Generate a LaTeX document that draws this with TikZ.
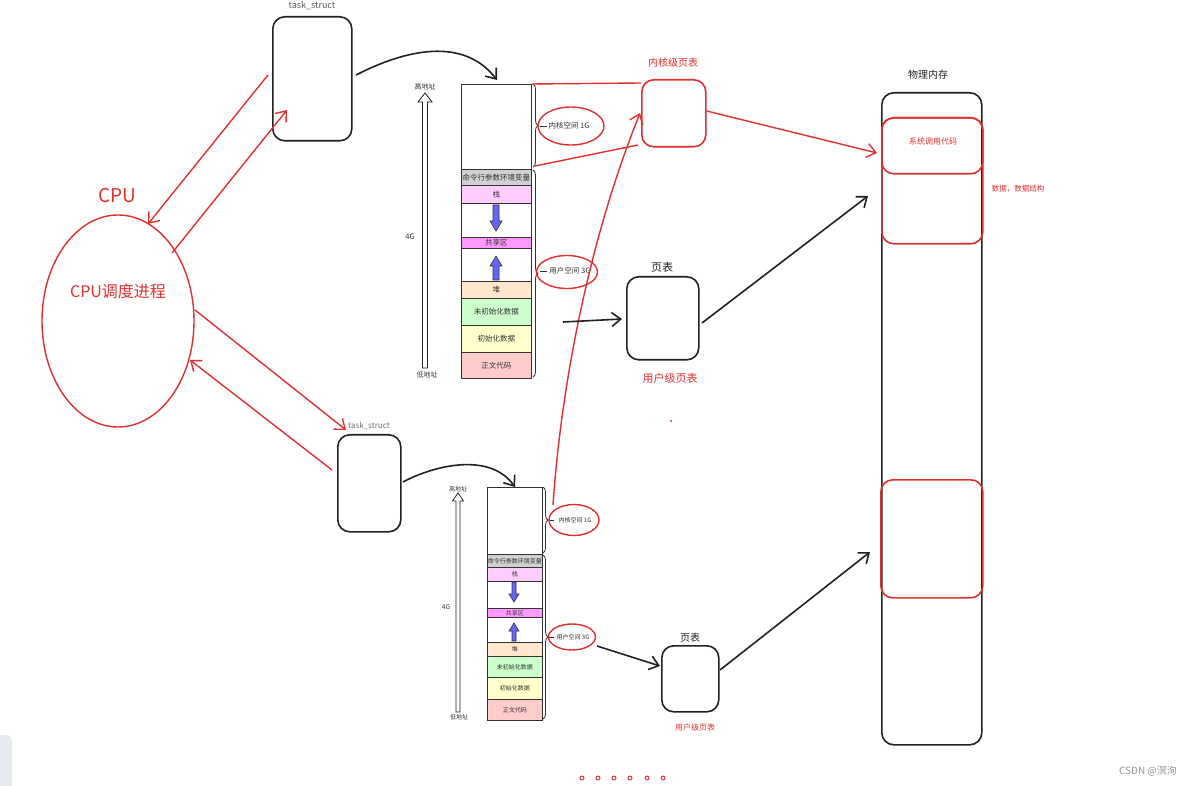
\documentclass[tikz,border=0pt]{standalone}
\usepackage{fontspec}
\setmainfont{Noto Sans CJK SC}
\usetikzlibrary{arrows.meta,decorations.pathreplacing,shapes.geometric}
\definecolor{rd}{HTML}{E0312E}
\definecolor{ink}{HTML}{222222}
\definecolor{txt}{HTML}{333333}
\definecolor{cmdgray}{HTML}{D0D0D0}
\definecolor{stackpink}{HTML}{FFCCFF}
\definecolor{sharepink}{HTML}{FF99FF}
\definecolor{heapc}{HTML}{FFE6CC}
\definecolor{bssc}{HTML}{CCFFCC}
\definecolor{datac}{HTML}{FFFFCC}
\definecolor{textc}{HTML}{FFCCCC}
\definecolor{blu}{HTML}{6666FF}
\newcommand\fs[1]{\fontsize{#1}{#1}\selectfont}
\begin{document}
\begin{tikzpicture}[x=1pt,y=-1pt,
  blkbox/.style={draw=ink,line width=1.6pt,rounded corners=12pt,anchor=north west,inner sep=0pt},
  redbox/.style={draw=rd,line width=1.6pt,rounded corners=12pt,anchor=north west,inner sep=0pt},
  rowA/.style={draw=txt,line width=0.7pt,anchor=north west,inner sep=0pt,minimum width=70pt,text=txt,font=\fs{7.5}},
  rowB/.style={draw=txt,line width=0.7pt,anchor=north west,inner sep=0pt,minimum width=55pt,text=txt,font=\fs{6}},
  rarr/.style={draw=rd,line width=1.4pt,-{Straight Barb[length=9pt,width=14pt,line width=1.4pt]}},
  barr/.style={draw=ink,line width=1.6pt,-{Straight Barb[length=9pt,width=14pt,line width=1.6pt]}},
  rline/.style={draw=rd,line width=1.4pt},
  brc/.style={draw=txt,line width=0.8pt,decorate,decoration={brace,amplitude=5pt}},
  rell/.style={draw=rd,line width=1.4pt,ellipse,inner sep=0pt,text=txt},
  hollow/.style={draw=ink,line width=0.8pt,fill=white},
  bluearr/.style={draw=txt,line width=0.6pt,fill=blu},
  lbl/.style={inner sep=0pt,text=txt}
]
\useasboundingbox (0,0) rectangle (1195,786);

% left UI artifact
\fill[fill={rgb,255:red,232;green,234;blue,242},rounded corners=6pt] (-10,735) rectangle (12,796);

% CPU
\node[lbl,text=rd,font=\fs{19}] (cpul) at (117,196) {CPU};
\node[draw=rd,line width=1.4pt,ellipse,minimum width=152pt,minimum height=212pt,inner sep=0pt] (cpu) at (118,321) {};
\node[lbl,text=rd,font=\fs{16}] (cput) at (118,291) {CPU调度进程};

% task_structs
\node[blkbox,minimum width=79pt,minimum height=124pt] (ts1) at (272,16) {};
\node[lbl,text=txt!80,font=\fs{9}] (ts1l) at (312,6) {task\_struct};
\node[blkbox,minimum width=63pt,minimum height=97pt] (ts2) at (337,434) {};
\node[lbl,text=txt!70,font=\fs{8}] (ts2l) at (369,426) {task\_struct};

% red arrows CPU <-> task
\coordinate (a1s) at (268,75);
\coordinate (a1e) at (148,224);
\coordinate (a2s) at (172,253);
\coordinate (a2e) at (287,110);
\coordinate (a3s) at (195,310);
\coordinate (a3e) at (346,430);
\coordinate (a4s) at (332,470);
\coordinate (a4e) at (190,360);
\draw[rarr] (a1s) -- (a1e);
\draw[rarr] (a2s) -- (a2e);
\draw[rarr] (a3s) -- (a3e);
\draw[rarr] (a4s) -- (a4e);

% curved black arrows to memory layouts
\coordinate (c1s) at (356,75);
\coordinate (c1e) at (497,80);
\draw[barr] (c1s) .. controls (395,55) and (460,32) .. (c1e);
\coordinate (c2s) at (403,482);
\coordinate (c2e) at (515,487);
\draw[barr] (c2s) .. controls (435,465) and (490,452) .. (c2e);

% ===== top memory layout =====
\node[rowA,minimum height=85pt] (k1) at (461,84) {};
\node[rowA,minimum height=16pt,fill=cmdgray] (cmd1) at (461,169) {命令行参数环境变量};
\node[rowA,minimum height=18pt,fill=stackpink] (st1) at (461,185) {栈};
\node[rowA,minimum height=34pt] (b11) at (461,203) {};
\node[rowA,minimum height=11pt,fill=sharepink] (sh1) at (461,237) {共享区};
\node[rowA,minimum height=33pt] (b12) at (461,248) {};
\node[rowA,minimum height=17pt,fill=heapc] (hp1) at (461,281) {堆};
\node[rowA,minimum height=27pt,fill=bssc] (bss1) at (461,298) {未初始化数据};
\node[rowA,minimum height=27pt,fill=datac] (dat1) at (461,325) {初始化数据};
\node[rowA,minimum height=26pt,fill=textc] (tx1) at (461,352) {正文代码};
% blue arrows
\draw[bluearr] (493,205) -- (499,205) -- (499,221) -- (502,221) -- (496,231) -- (490,221) -- (493,221) -- cycle;
\draw[bluearr] (493,280) -- (499,280) -- (499,266) -- (502,266) -- (496,256) -- (490,266) -- (493,266) -- cycle;
% address arrow
\draw[hollow] (422.5,368) -- (422.5,102) -- (418,102) -- (425,93) -- (432,102) -- (427.5,102) -- (427.5,368) -- cycle;
\node[lbl,font=\fs{7}] (hi1) at (425,87) {高地址};
\node[lbl,font=\fs{7}] (lo1) at (427,375) {低地址};
\node[lbl,font=\fs{7.5}] (g41) at (410,237) {4G};
% braces
\draw[brc] (533,84) -- (533,167);
\draw[brc] (533,170) -- (533,377);
\draw[draw=txt,line width=0.8pt] (540,126) -- (547,126);
\draw[draw=txt,line width=0.8pt] (540,271) -- (547,271);
\node[rell,minimum width=66pt,minimum height=38pt] (ke1) at (571,126) {};
\node[lbl,font=\fs{7.5}] at (569,126) {内核空间 1G};
\node[rell,minimum width=61pt,minimum height=33pt] (ue1) at (567,272) {};
\node[lbl,font=\fs{7.5}] at (570,271) {用户空间 3G};

% ===== bottom memory layout =====
\node[rowB,minimum height=67pt] (k2) at (487,487) {};
\node[rowB,minimum height=13pt,fill=cmdgray] (cmd2) at (487,554) {命令行参数环境变量};
\node[rowB,minimum height=14pt,fill=stackpink] (st2) at (487,567) {栈};
\node[rowB,minimum height=27pt] (b21) at (487,581) {};
\node[rowB,minimum height=9pt,fill=sharepink] (sh2) at (487,608) {共享区};
\node[rowB,minimum height=25pt] (b22) at (487,617) {};
\node[rowB,minimum height=14pt,fill=heapc] (hp2) at (487,642) {堆};
\node[rowB,minimum height=21pt,fill=bssc] (bss2) at (487,656) {未初始化数据};
\node[rowB,minimum height=22pt,fill=datac] (dat2) at (487,677) {初始化数据};
\node[rowB,minimum height=21pt,fill=textc] (tx2) at (487,699) {正文代码};
\draw[bluearr] (512,582) -- (516,582) -- (516,594) -- (519,594) -- (514,602) -- (509,594) -- (512,594) -- cycle;
\draw[bluearr] (512,641) -- (516,641) -- (516,631) -- (519,631) -- (514,623) -- (509,631) -- (512,631) -- cycle;
\draw[hollow] (456,712) -- (456,501) -- (452.5,501) -- (458,493) -- (463.5,501) -- (460,501) -- (460,712) -- cycle;
\node[lbl,font=\fs{6}] (hi2) at (458,489) {高地址};
\node[lbl,font=\fs{6}] (lo2) at (459,717) {低地址};
\node[lbl,font=\fs{6.5}] (g42) at (446,607) {4G};
\draw[brc] (543,487) -- (543,553);
\draw[brc] (543,555) -- (543,719);
\draw[draw=txt,line width=0.8pt] (549,520) -- (554,520);
\draw[draw=txt,line width=0.8pt] (549,637) -- (554,637);
\node[rell,minimum width=50pt,minimum height=31pt] (ke2) at (574,520) {};
\node[lbl,font=\fs{6}] at (575,520) {内核空间 1G};
\node[rell,minimum width=47pt,minimum height=26pt] (ue2) at (572,637) {};
\node[lbl,font=\fs{6}] at (573,637) {用户空间 3G};

% ===== page tables =====
\node[redbox,minimum width=64pt,minimum height=67pt] (kpt) at (641,79) {};
\node[lbl,text=rd,font=\fs{10}] (kptl) at (673,63) {内核级页表};
\node[blkbox,minimum width=72pt,minimum height=83pt] (upt1) at (626,276) {};
\node[lbl,text=ink,font=\fs{11}] (upt1l) at (662,267) {页表};
\node[lbl,text=rd,font=\fs{11}] (upt1n) at (670,378) {用户级页表};
\fill[rd] (671,421) circle (1.1);
\node[blkbox,minimum width=57pt,minimum height=66pt] (upt2) at (661,645) {};
\node[lbl,text=ink,font=\fs{10}] (upt2l) at (690,638) {页表};
\node[lbl,text=rd,font=\fs{8}] (upt2n) at (695,727) {用户级页表};

% ===== physical memory =====
\node[blkbox,minimum width=100pt,minimum height=652pt] (phys) at (881,92) {};
\node[lbl,text=ink,font=\fs{10}] (physl) at (928,75) {物理内存};
\node[redbox,minimum width=101pt,minimum height=126pt] (pk) at (881,117) {};
\node[redbox,minimum width=101pt,minimum height=56pt] (psys) at (881,117) {};
\node[lbl,text=rd,font=\fs{8}] at (933,141) {系统调用代码};
\node[lbl,text=rd,font=\fs{7.5}] at (1018,189) {数据，数据结构};
\node[redbox,minimum width=102pt,minimum height=118pt] (pu) at (880,479) {};

% connectors
\draw[rline] (k1.north east) -- (kpt.west |- 0,83);
\draw[rline] (535,166) -- (638,145);
\draw[rarr] (553,505) .. controls (560,400) and (585,250) .. (640,113);
\draw[rarr] (kpt.east |- 0,111) -- (877,153);
\draw[barr] (563,322) -- (622,319);
\draw[barr] (702,323) -- (868,196);
\draw[barr] (597,646) -- (660,666);
\draw[barr] (720,670) -- (870,552);

% dots
\foreach \xx in {582,598,614,630,647,663} \draw[rd,line width=0.9pt] (\xx,778) circle (2);

% watermark
\node[lbl,text={rgb,255:red,150;green,150;blue,150},font=\fs{10}] (wm) at (1148,771) {CSDN @溟洵};
\end{tikzpicture}
\end{document}
